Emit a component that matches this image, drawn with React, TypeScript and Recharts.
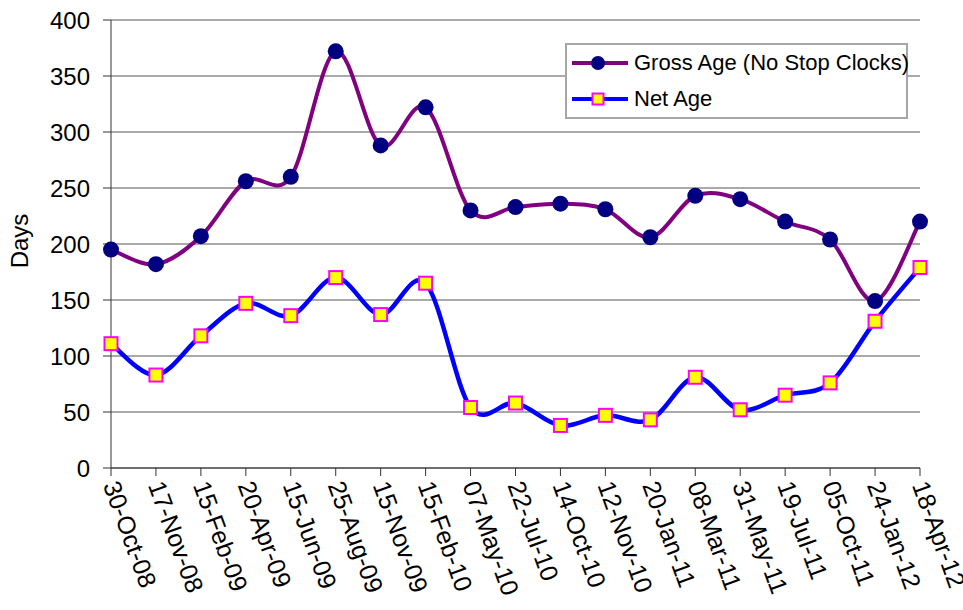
import React from 'react'
import { LineChart, Line, XAxis, YAxis, CartesianGrid, Legend } from 'recharts'

const dates = [
  '30-Oct-08', '17-Nov-08', '15-Feb-09', '20-Apr-09', '15-Jun-09', '25-Aug-09',
  '15-Nov-09', '15-Feb-10', '07-May-10', '22-Jul-10', '14-Oct-10', '12-Nov-10',
  '20-Jan-11', '08-Mar-11', '31-May-11', '19-Jul-11', '05-Oct-11', '24-Jan-12', '18-Apr-12',
]
const grossAge = [195, 182, 207, 256, 260, 372, 288, 322, 230, 233, 236, 231, 206, 243, 240, 220, 204, 149, 220]
const netAge = [111, 83, 118, 147, 136, 170, 137, 165, 54, 58, 38, 47, 43, 81, 52, 65, 76, 131, 179]
const yTicks = [0, 50, 100, 150, 200, 250, 300, 350, 400]

const FONT = '"Liberation Sans", Arial, sans-serif'

const data = dates.map((d, i) => ({ date: d, gross: grossAge[i], net: netAge[i] }))

// Excel-style smoothed line (uniform Catmull-Rom as cubic beziers)
function excelSmooth(context: any) {
  let pts: number[][] = []
  return {
    areaStart() {},
    areaEnd() {},
    lineStart() { pts = [] },
    point(x: number, y: number) { pts.push([+x, +y]) },
    lineEnd() {
      if (!pts.length) return
      context.moveTo(pts[0][0], pts[0][1])
      for (let i = 0; i < pts.length - 1; i++) {
        const p0 = pts[i - 1] || pts[i]
        const p1 = pts[i]
        const p2 = pts[i + 1]
        const p3 = pts[i + 2] || p2
        context.bezierCurveTo(
          p1[0] + (p2[0] - p0[0]) / 6, p1[1] + (p2[1] - p0[1]) / 6,
          p2[0] - (p3[0] - p1[0]) / 6, p2[1] - (p3[1] - p1[1]) / 6,
          p2[0], p2[1],
        )
      }
    },
  }
}

const GrossDot = (props: any) => (
  <circle key={`g-${props.index}`} cx={props.cx} cy={props.cy} r={8} fill="#000080" />
)

const NetDot = (props: any) => (
  <rect
    key={`n-${props.index}`}
    x={props.cx - 6.5} y={props.cy - 6.5} width={13} height={13}
    fill="#ffff00" stroke="#ff00ff" strokeWidth={2}
  />
)

const DateTick = ({ x, y, payload }: any) => (
  <text
    transform={`translate(${x},${y}) rotate(70)`}
    textAnchor="start" dy="0.35em"
    fontSize={25} fontFamily={FONT} fill="#000"
  >
    {payload.value}
  </text>
)

const renderLegend = ({ payload }: any) => (
  <div style={{
    border: '2px solid #a6a6a6', background: '#fff', width: 339, fontFamily: FONT,
    fontSize: 22, color: '#000', boxSizing: 'content-box',
  }}>
    {payload.map((p: any) => (
      <div key={p.value} style={{ display: 'flex', alignItems: 'center', height: 36, whiteSpace: 'nowrap' }}>
        <svg width={67} height={20} style={{ marginLeft: 5, flexShrink: 0 }}>
          <line x1={0} y1={10} x2={56} y2={10} stroke={p.color} strokeWidth={4} />
          {p.dataKey === 'gross'
            ? <circle cx={26} cy={10} r={7} fill="#000080" />
            : <rect x={20.5} y={4.5} width={11} height={11} fill="#ffff00" stroke="#ff00ff" strokeWidth={2} />}
        </svg>
        <span style={{ marginLeft: -5 }}>{p.value}</span>
      </div>
    ))}
  </div>
)

export default function App() {
  return (
    <div style={{ position: 'absolute', left: 0, top: 0, background: '#fff' }}>
      <LineChart width={963} height={610} data={data} margin={{ top: 20, right: 43, bottom: 0, left: 0 }}>
        <CartesianGrid vertical={false} stroke="#8c8c8c" strokeWidth={1.3} />
        <XAxis
          dataKey="date"
          height={142}
          interval={0}
          tickSize={8}
          tickMargin={6}
          stroke="#333"
          tick={<DateTick />}
        />
        <YAxis
          width={111}
          domain={[0, 400]}
          ticks={yTicks}
          interval={0}
          tickSize={8}
          tickMargin={13}
          stroke="#333"
          tick={{ fontSize: 24, fontFamily: FONT, fill: '#000' }}
          label={{
            content: () => (
              <text transform="translate(28,241) rotate(-90)" textAnchor="middle"
                fontSize={24} fontFamily={FONT} fill="#000">Days</text>
            ),
          }}
        />
        <Legend
          layout="horizontal" verticalAlign="middle" align="center"
          wrapperStyle={{ left: 565, top: 43, width: 343 }}
          content={renderLegend}
        />
        <Line
          dataKey="gross" name="Gross Age (No Stop Clocks)" type={excelSmooth as any}
          stroke="#800080" strokeWidth={4} dot={GrossDot} activeDot={false}
          isAnimationActive={false}
        />
        <Line
          dataKey="net" name="Net Age" type={excelSmooth as any}
          stroke="#0000ff" strokeWidth={4.5} dot={NetDot} activeDot={false}
          isAnimationActive={false}
        />
      </LineChart>
    </div>
  )
}
